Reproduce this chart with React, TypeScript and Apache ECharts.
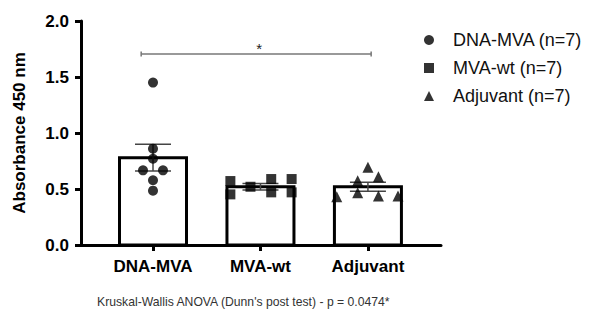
import React, { useEffect, useRef } from "react";
import * as echarts from "echarts";

const categories = ["DNA-MVA", "MVA-wt", "Adjuvant"];
const seriesNames = ["DNA-MVA (n=7)", "MVA-wt (n=7)", "Adjuvant (n=7)"];
const symbols = ["circle", "rect", "triangle"];
const means = [0.78, 0.52, 0.52];
const sems = [0.12, 0.028, 0.04];

// [category position + horizontal jitter, absorbance]
const dnaMvaPoints = [
  [0, 1.45], [0, 0.86], [0, 0.77], [-0.093, 0.667], [0.093, 0.667], [0, 0.578], [0, 0.485],
];
const mvaWtPoints = [
  [0.72, 0.571], [0.72, 0.452], [0.907, 0.52], [1.1, 0.589], [1.1, 0.47], [1.29, 0.589], [1.29, 0.47],
];
const adjuvantPoints = [
  [1.71, 0.431], [1.905, 0.574], [1.905, 0.467], [2, 0.694], [2.098, 0.61], [2.098, 0.4375], [2.28, 0.4375],
];
const pointSets = [dnaMvaPoints, mvaWtPoints, adjuvantPoints];

// significance bracket: [x start, x end, y level]
const bracket = [[-0.11, 2.03, 1.705]];
const bracketLabel = "*";
const yTicks = [0, 0.5, 1.0, 1.5, 2.0];
const caption = "Kruskal-Wallis ANOVA (Dunn's post test) - p = 0.0474*";
const yTitle = "Absorbance 450 nm";

const FONT = "'Liberation Sans', Arial, sans-serif";

export default function App() {
  const ref = useRef<HTMLDivElement>(null);
  useEffect(() => {
    document.body.style.margin = "0";
    if (!ref.current) return;
    const chart = echarts.init(ref.current, null, { renderer: "svg" });
    const option: any = {
      animation: false,
      backgroundColor: "#fff",
      textStyle: { fontFamily: FONT },
      grid: { left: 81, right: 148, top: 21, bottom: 66, containLabel: false },
      legend: {
        orient: "vertical",
        left: 419,
        top: 26,
        itemWidth: 10,
        itemHeight: 10,
        itemGap: 10,
        data: seriesNames,
        textStyle: { fontSize: 18, color: "#111", fontFamily: FONT, lineHeight: 18, padding: [0, 0, 0, 14] },
      },
      xAxis: {
        type: "value",
        min: -0.67,
        max: 2.68,
        splitLine: { show: false },
        axisLine: { show: true, onZero: false, lineStyle: { color: "#000", width: 3 } },
        axisTick: { show: true, customValues: [0, 1, 2], length: 6, lineStyle: { color: "#000", width: 3 } },
        axisLabel: {
          customValues: [0, 1, 2],
          formatter: (v: number) => categories[Math.round(v)] ?? "",
          fontSize: 17,
          fontWeight: "bold",
          color: "#000",
          margin: 13,
        },
      },
      yAxis: {
        type: "value",
        min: 0,
        max: 2,
        interval: 0.5,
        name: yTitle,
        nameLocation: "middle",
        nameGap: 53,
        nameTextStyle: { fontSize: 17, fontWeight: "bold", color: "#000" },
        splitLine: { show: false },
        axisLine: { show: true, onZero: false, lineStyle: { color: "#000", width: 3 } },
        axisTick: { show: true, length: 6, lineStyle: { color: "#000", width: 3 } },
        axisLabel: {
          formatter: (v: number) => (yTicks.includes(v) ? v.toFixed(1) : ""),
          fontSize: 17,
          fontWeight: "bold",
          color: "#000",
          margin: 12,
        },
      },
      series: [
        {
          type: "custom",
          name: "bars",
          clip: false,
          encode: { x: 0, y: 1 },
          data: categories.map((c, i) => [i, means[i], sems[i]]),
          renderItem: (params: any, api: any) => {
            const x = api.value(0);
            const m = api.value(1);
            const top = api.coord([x, m]);
            const base = api.coord([x, 0]);
            return {
              type: "rect",
              shape: { x: top[0] - 33.5, y: top[1], width: 67, height: base[1] - top[1] },
              style: { fill: "#fff", stroke: "#000", lineWidth: 3 },
            };
          },
        },
        {
          type: "custom",
          name: "errors",
          clip: false,
          encode: { x: 0, y: 1 },
          data: categories.map((c, i) => [i, means[i], sems[i]]),
          renderItem: (params: any, api: any) => {
            const x = api.value(0);
            const m = api.value(1);
            const s = api.value(2);
            const up = api.coord([x, m + s]);
            const lo = api.coord([x, m - s]);
            const st = { stroke: "#444", lineWidth: 1.5 };
            return {
              type: "group",
              children: [
                { type: "line", shape: { x1: up[0], y1: up[1], x2: lo[0], y2: lo[1] }, style: st },
                { type: "line", shape: { x1: up[0] - 18, y1: up[1], x2: up[0] + 18, y2: up[1] }, style: st },
                { type: "line", shape: { x1: lo[0] - 18, y1: lo[1], x2: lo[0] + 18, y2: lo[1] }, style: st },
              ],
            };
          },
        },
        ...pointSets.map((pts, i) => ({
          type: "scatter",
          name: seriesNames[i],
          symbol: symbols[i],
          symbolSize: i === 2 ? 11 : 10,
          itemStyle: { color: "#000" },
          data: pts,
          z: 5,
        })),
        {
          type: "custom",
          name: "bracket",
          clip: false,
          data: bracket,
          encode: { x: 0, y: 2 },
          renderItem: (params: any, api: any) => {
            const a = api.coord([api.value(0), api.value(2)]);
            const b = api.coord([api.value(1), api.value(2)]);
            const st = { stroke: "#777", lineWidth: 1.5 };
            return {
              type: "group",
              children: [
                { type: "line", shape: { x1: a[0], y1: a[1], x2: b[0], y2: b[1] }, style: st },
                { type: "line", shape: { x1: a[0], y1: a[1] - 2.5, x2: a[0], y2: a[1] + 2.5 }, style: st },
                { type: "line", shape: { x1: b[0], y1: b[1] - 2.5, x2: b[0], y2: b[1] + 2.5 }, style: st },
                {
                  type: "text",
                  x: (a[0] + b[0]) / 2 + 3,
                  y: a[1] + 2,
                  style: {
                    text: bracketLabel,
                    fontSize: 15,
                    fontFamily: FONT,
                    fill: "#222",
                    align: "center",
                    verticalAlign: "bottom",
                  },
                },
              ],
            };
          },
        },
      ],
      graphic: [
        {
          type: "text",
          left: 97,
          top: 296,
          style: { text: caption, fontSize: 12.2, fill: "#333", fontFamily: FONT },
        },
      ],
    };
    chart.setOption(option);
    return () => chart.dispose();
  }, []);
  return <div ref={ref} style={{ width: 589, height: 311 }} />;
}
